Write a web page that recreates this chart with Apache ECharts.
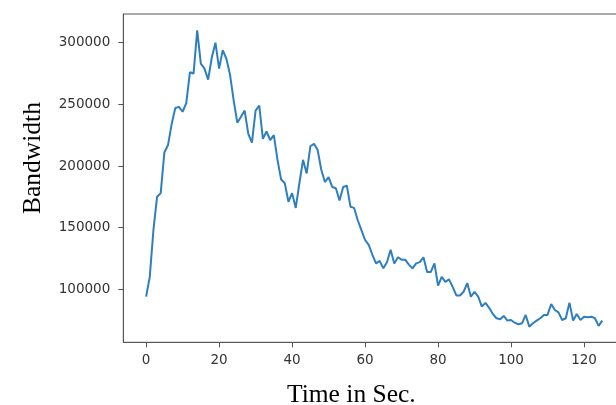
<!DOCTYPE html>
<html>
<head>
<meta charset="utf-8">
<script src="https://cdn.jsdelivr.net/npm/echarts@6/dist/echarts.min.js"></script>
<style>
html,body{margin:0;padding:0;background:#fff;}
#chart{width:616px;height:405px;}
</style>
</head>
<body>
<div id="chart"></div>
<script>
var timeSec = [0,1,2,3,4,5,6,7,8,9,10,11,12,13,14,15,16,17,18,19,20,21,22,23,24,25,26,27,28,29,30,31,32,33,34,35,36,37,38,39,40,41,42,43,44,45,46,47,48,49,50,51,52,53,54,55,56,57,58,59,60,61,62,63,64,65,66,67,68,69,70,71,72,73,74,75,76,77,78,79,80,81,82,83,84,85,86,87,88,89,90,91,92,93,94,95,96,97,98,99,100,101,102,103,104,105,106,107,108,109,110,111,112,113,114,115,116,117,118,119,120,121,122,123,124,125];
var bandwidth = [94000,110000,148000,175000,178000,211000,217000,234000,247000,248000,244000,251000,276000,275000,310000,283000,279000,270000,288000,300000,279000,294000,287000,274000,253000,235000,240000,245000,226000,219000,245000,249000,222000,228000,221000,225000,205000,189000,186000,171000,178000,166000,186000,205000,194000,216000,218000,213000,197000,187000,191000,183000,182000,172000,183000,184000,167000,166000,156000,148000,140000,136000,128000,121000,123000,117000,122000,132000,121000,126000,124000,124000,120000,117000,121000,122000,126000,114000,114000,121000,103000,110000,106000,108000,102000,95000,95000,98000,105000,94000,98000,94000,86000,89000,85000,80000,76500,75700,78400,74600,75100,72900,71600,72400,79200,69700,72400,74600,76500,79200,79200,88100,83200,81300,75100,76500,89200,74600,80000,75100,77800,77300,77800,76500,70300,74600];
var xTicks = [0,20,40,60,80,100,120];
var yTicks = [100000,150000,200000,250000,300000];
var xLabel = 'Time in Sec.';
var yLabel = 'Bandwidth';

var points = timeSec.map(function(t,i){return [t, bandwidth[i]];});
var chart = echarts.init(document.getElementById('chart'), null, {renderer:'canvas'});
var axisColor = '#555';
var labelStyle = {color:'#333', fontFamily:'DejaVu Sans', fontSize:13.5};
chart.setOption({
  animation:false,
  grid:{left:123.3, top:14, width:501.8, height:328.3, show:true, borderColor:axisColor, borderWidth:1, containLabel:false, outerBoundsMode:'none'},
  xAxis:{
    type:'value', min:-6.25, max:131.25,
    splitLine:{show:false},
    axisLine:{show:true, onZero:false, lineStyle:{color:axisColor, width:1}},
    axisTick:{show:true, length:5, lineStyle:{color:axisColor}, customValues:xTicks},
    axisLabel:Object.assign({margin:11, customValues:xTicks, formatter:function(v){return String(v);}}, labelStyle)
  },
  yAxis:{
    type:'value', min:57000, max:323300,
    splitLine:{show:false},
    axisLine:{show:true, onZero:false, lineStyle:{color:axisColor, width:1}},
    axisTick:{show:true, length:5, lineStyle:{color:axisColor}, customValues:yTicks},
    axisLabel:Object.assign({margin:13, customValues:yTicks, formatter:function(v){return String(v);}}, labelStyle)
  },
  series:[{
    type:'line', data:points, showSymbol:false, symbol:'none',
    lineStyle:{color:'#2f7fbf', width:2}, itemStyle:{color:'#2f7fbf'}
  }],
  graphic:[
    {type:'text', left:287, top:382, style:{text:xLabel, font:'25.5px "Liberation Serif"', fill:'#000'}},
    {type:'text', x:33, y:158, rotation:Math.PI/2, style:{text:yLabel, font:'25.5px "Liberation Serif"', fill:'#000', align:'center', verticalAlign:'middle'}}
  ]
});
</script>
</body>
</html>
